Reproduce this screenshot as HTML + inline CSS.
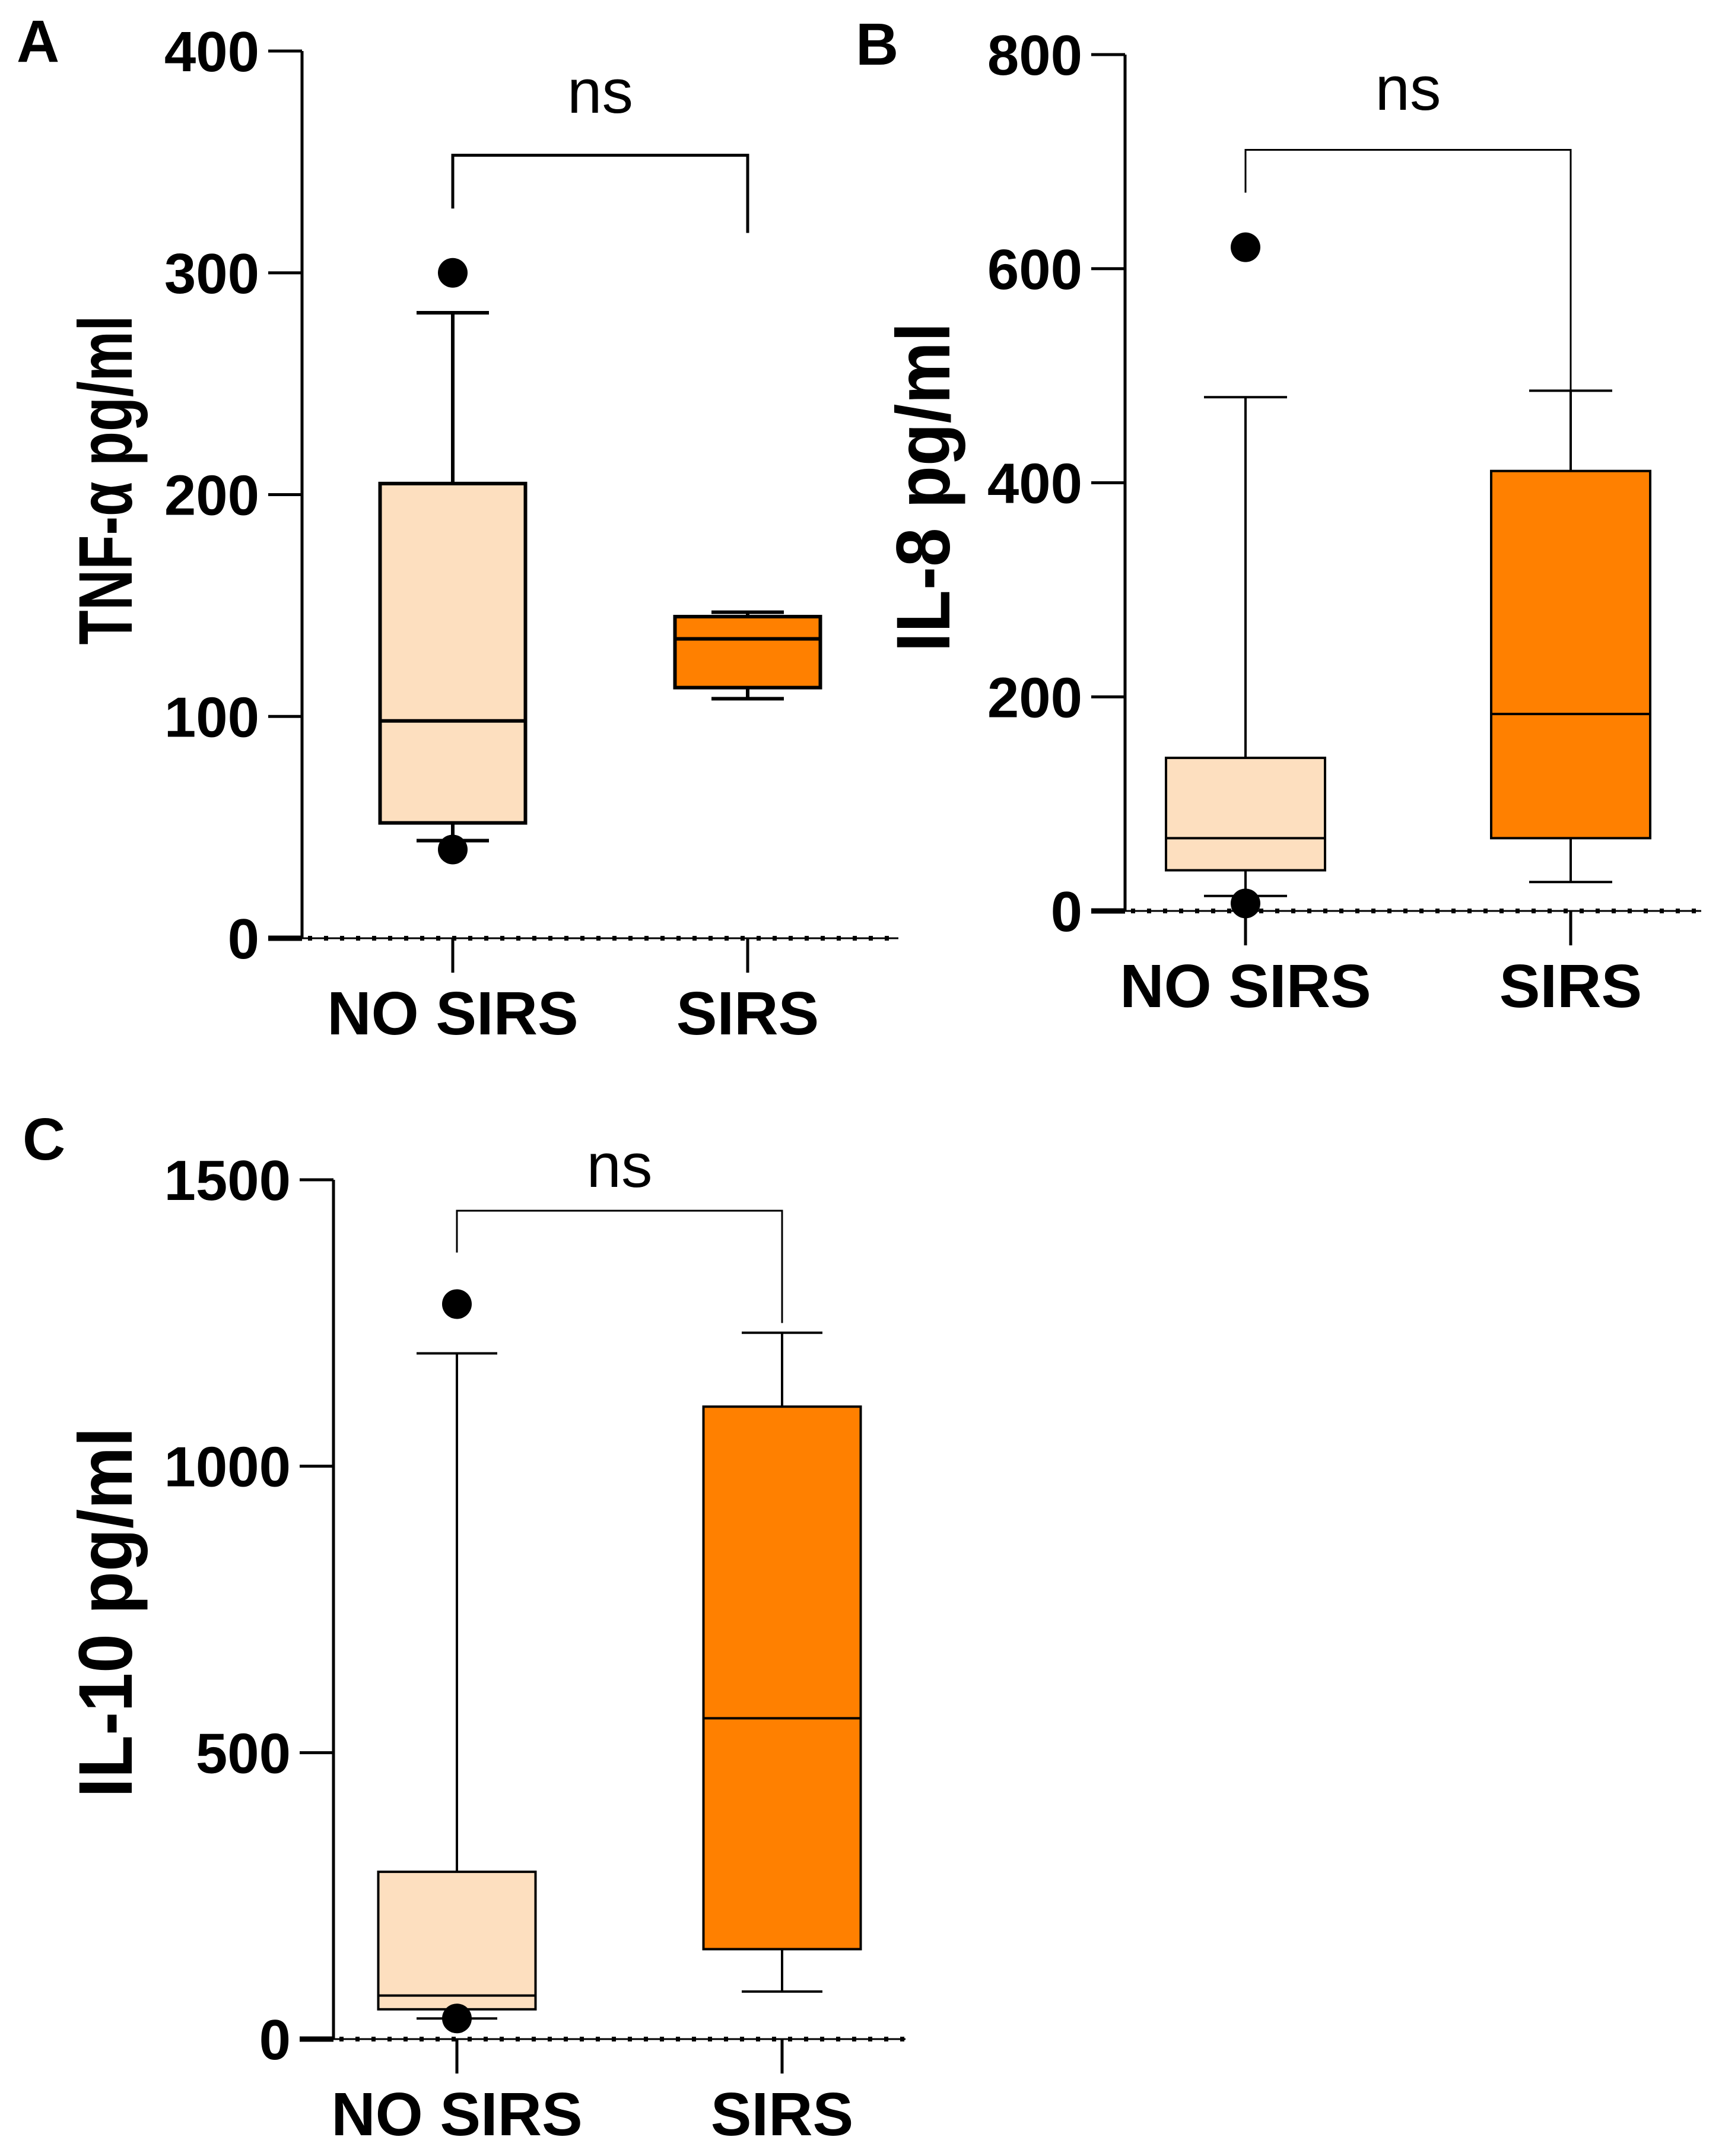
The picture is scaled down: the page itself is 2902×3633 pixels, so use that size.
<!DOCTYPE html>
<html><head><meta charset="utf-8"><style>
html,body{margin:0;padding:0;background:#fff}
svg{display:block}
text{font-family:"Liberation Sans",Arial,sans-serif;fill:#000}
</style></head><body>
<svg id="fig" width="2902" height="3633" viewBox="0 0 2902 3633" xmlns="http://www.w3.org/2000/svg"></svg>
<script>
const categories = ["NO SIRS", "SIRS"];
// [whiskerLow, Q1, median, Q3, whiskerHigh]
const tnfNoSirs = [44, 52, 98, 205, 282];
const tnfSirs = [108, 113, 135, 145, 147];
const tnfOutliers = [300, 40];
const tnfTicks = [0, 100, 200, 300, 400];
const il8NoSirs = [14, 38, 68, 143, 480];
const il8Sirs = [27, 68, 184, 411, 486];
const il8Outliers = [620, 7];
const il8Ticks = [0, 200, 400, 600, 800];
const il10NoSirs = [36, 52, 76, 292, 1197];
const il10Sirs = [83, 157, 560, 1104, 1233];
const il10Outliers = [1283, 36];
const il10Ticks = [0, 500, 1000, 1500];

const NS = "http://www.w3.org/2000/svg";
const svg = document.getElementById("fig");
function mk(tag, attrs, parent) {
  const e = document.createElementNS(NS, tag);
  for (const k in attrs) e.setAttribute(k, attrs[k]);
  (parent || svg).appendChild(e);
  return e;
}

function panel(cfg) {
  const g = mk("g", {});
  
  
  const max = cfg.ticks[cfg.ticks.length - 1];
  const y = v => cfg.y0 - (v / max) * (cfg.y0 - cfg.yTop);
  const xs = [cfg.x1, cfg.x2];
  const lw = cfg.lw;
  const L = mk("text", {x: cfg.lx, y: cfg.ly, "font-size": 100, "font-weight": "bold"}, g);
  L.textContent = cfg.letter;
  
  
  const ax = mk("line", {x1: cfg.ax, y1: y(max), x2: cfg.ax, y2: cfg.y0, stroke: "#000", "stroke-width": 5}, g);
  
  
  cfg.ticks.forEach(t => {
    const tk = mk("line", {x1: cfg.ax - 57, y1: y(t), x2: cfg.ax, y2: y(t), stroke: "#000", "stroke-width": t === 0 ? 9 : 5}, g);
    
    
    const tl = mk("text", {x: cfg.ax - 72, y: y(t) + 34, "font-size": 96, "font-weight": "bold", "text-anchor": "end"}, g);
    tl.textContent = t;
    
    
  });
  const zl2 = mk("line", {x1: cfg.ax, y1: cfg.y0, x2: cfg.xEnd, y2: cfg.y0, stroke: "#000", "stroke-width": 3}, g);
  
  
  const zl = mk("line", {x1: cfg.ax + 10, y1: cfg.y0, x2: cfg.xEnd, y2: cfg.y0, stroke: "#000", "stroke-width": 8, "stroke-dasharray": "7 20"}, g);
  
  
  const yt = mk("text", {x: 0, y: 0, "font-size": 128, "font-weight": "bold", "text-anchor": "middle",
    textLength: cfg.tlen, lengthAdjust: "spacingAndGlyphs",
    transform: `translate(${cfg.tx},${cfg.ty}) rotate(-90)`}, g);
  yt.textContent = cfg.title;
  
  
  categories.forEach((c, i) => {
    const xt = mk("line", {x1: xs[i], y1: cfg.y0, x2: xs[i], y2: cfg.y0 + 58, stroke: "#000", "stroke-width": 5}, g);
    
    
    const xl = mk("text", {x: xs[i], y: cfg.y0 + 162, "font-size": 103, "font-weight": "bold", "text-anchor": "middle"}, g);
    xl.textContent = c;
    
    
  });
  const fills = ["#FDDFBF", "#FF8000"];
  [cfg.a, cfg.b].forEach((d, i) => {
    const x = xs[i], hw = cfg.bw / 2, cw = cfg.cw / 2;
    const wl = mk("line", {x1: x, y1: y(d[0]), x2: x, y2: y(d[4]), stroke: "#000", "stroke-width": lw}, g);
    
    
    [d[0], d[4]].forEach(v => {
      const cap = mk("line", {x1: x - cw, y1: y(v), x2: x + cw, y2: y(v), stroke: "#000", "stroke-width": lw}, g);
      
      
    });
    const r = mk("rect", {x: x - hw, y: y(d[3]), width: cfg.bw, height: y(d[1]) - y(d[3]), fill: fills[i], stroke: "#000", "stroke-width": lw}, g);
    
    
    const m = mk("line", {x1: x - hw, y1: y(d[2]), x2: x + hw, y2: y(d[2]), stroke: "#000", "stroke-width": lw}, g);
    
    
  });
  cfg.out.forEach(v => {
    const c = mk("circle", {cx: xs[0], cy: y(v), r: 25, fill: "#000"}, g);
    
    
  });
  const br = mk("polyline", {points: `${xs[0]},${y(cfg.br[1])} ${xs[0]},${y(cfg.br[0])} ${xs[1]},${y(cfg.br[0])} ${xs[1]},${y(cfg.br[2])}`,
    fill: "none", stroke: "#000", "stroke-width": cfg.blw}, g);
  
  
  const ns = mk("text", {x: (xs[0] + xs[1]) / 2, y: cfg.nsY, "font-size": 105, "text-anchor": "middle"}, g);
  ns.textContent = "ns";
  
  
}

panel({name: "panel-a-tnf", letter: "A", lx: 28, ly: 104, ax: 509, y0: 1581, yTop: 86, ticks: tnfTicks,
  x1: 763, x2: 1260, xEnd: 1514, bw: 245, cw: 122, lw: 6, blw: 5, a: tnfNoSirs, b: tnfSirs, out: tnfOutliers,
  br: [353, 329, 318], nsY: 190, title: "TNF-α pg/ml", tx: 222, ty: 809, tlen: 555});
panel({name: "panel-b-il8", letter: "B", lx: 1442, ly: 109, ax: 1896, y0: 1535, yTop: 92, ticks: il8Ticks,
  x1: 2099, x2: 2647, xEnd: 2867, bw: 268, cw: 140, lw: 4, blw: 3, a: il8NoSirs, b: il8Sirs, out: il8Outliers,
  br: [711, 671, 456], nsY: 185, title: "IL-8 pg/ml", tx: 1600, ty: 821, tlen: 555});
panel({name: "panel-c-il10", letter: "C", lx: 38, ly: 1954, ax: 562, y0: 3436, yTop: 1988, ticks: il10Ticks,
  x1: 770, x2: 1318, xEnd: 1526, bw: 265, cw: 136, lw: 4, blw: 3, a: il10NoSirs, b: il10Sirs, out: il10Outliers,
  br: [1446, 1373, 1250], nsY: 2000, title: "IL-10 pg/ml", tx: 222, ty: 2717, tlen: 624});
</script>
</body></html>
